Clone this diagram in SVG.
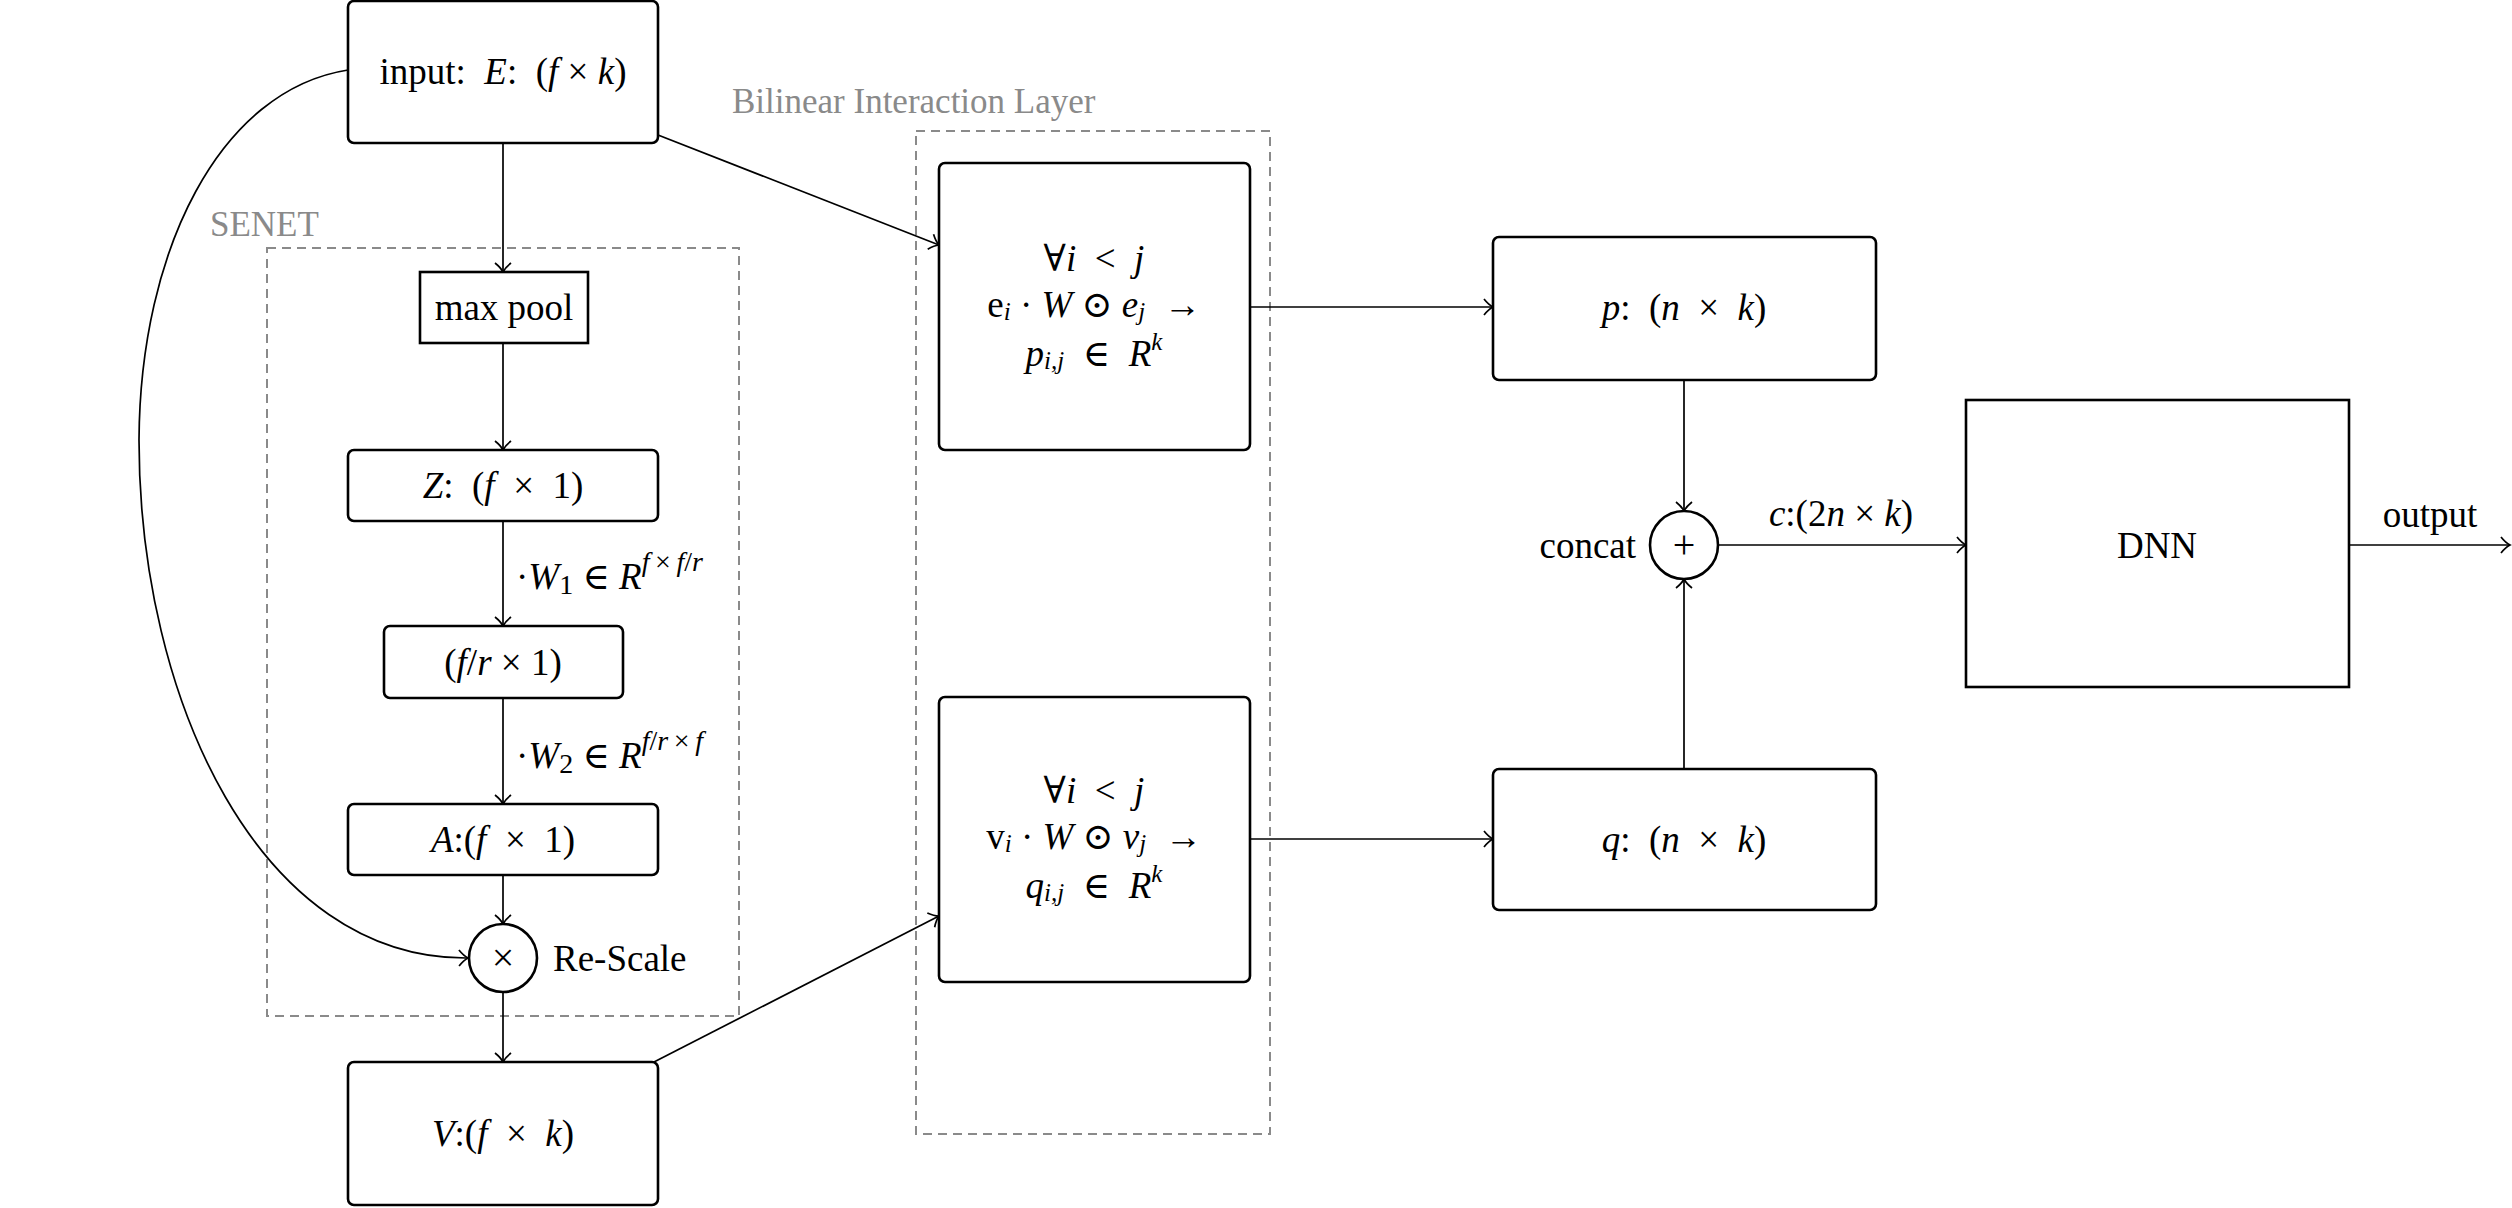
<svg xmlns="http://www.w3.org/2000/svg" width="2512" height="1208" viewBox="0 0 2512 1208">
<defs>
<style>
text{font-family:"Liberation Serif","DejaVu Serif",serif;font-size:37px;fill:#000;white-space:pre}
.t{text-anchor:middle;dominant-baseline:central}
.l{dominant-baseline:central}
.i{font-style:italic}
.s{font-size:25px}
.ss{font-size:28px}
.g{fill:#8a8a8a;font-size:35px}
.op{font-size:40px}
.box{fill:#fff;stroke:#000;stroke-width:2.6}
.grp{fill:none;stroke:#8a8a8a;stroke-width:2;stroke-dasharray:9 6}
.c{fill:none;stroke:#000;stroke-width:1.7}
</style>
<marker id="ar" markerUnits="userSpaceOnUse" markerWidth="24" markerHeight="24" viewBox="-12 -12 24 24" refX="0" refY="0" orient="auto">
<path d="M-9,-8 C-5,-3 -2,-1 0,0 C-2,1 -5,3 -9,8" fill="none" stroke="#000" stroke-width="1.7"/>
</marker>
</defs>

<g id="groups">
<rect class="grp" x="267" y="248" width="472" height="768"/>
<text class="l g" x="210" y="224">SENET</text>
<rect class="grp" x="916" y="131" width="354" height="1003"/>
<text class="l g" x="732" y="101">Bilinear Interaction Layer</text>
</g>

<g id="connectors">
<path class="c" d="M503,143 V272" marker-end="url(#ar)"/>
<path class="c" d="M503,343 V450" marker-end="url(#ar)"/>
<path class="c" d="M503,521 V626" marker-end="url(#ar)"/>
<path class="c" d="M503,698 V804" marker-end="url(#ar)"/>
<path class="c" d="M503,875 V924" marker-end="url(#ar)"/>
<path class="c" d="M503,992 V1062" marker-end="url(#ar)"/>
<path class="c" d="M348,70 C220,90 140,250 139,440 C139,700 260,960 468,958" marker-end="url(#ar)"/>
<path class="c" d="M658,135 L939,245" marker-end="url(#ar)"/>
<path class="c" d="M654,1062 L939,916" marker-end="url(#ar)"/>
<path class="c" d="M1250,307 H1493" marker-end="url(#ar)"/>
<path class="c" d="M1250,839 H1493" marker-end="url(#ar)"/>
<path class="c" d="M1684,380 V511" marker-end="url(#ar)"/>
<path class="c" d="M1684,769 V579" marker-end="url(#ar)"/>
<path class="c" d="M1718,545 H1966" marker-end="url(#ar)"/>
<path class="c" d="M2349,545 H2510" marker-end="url(#ar)"/>
<text class="l" x="516" y="576">·<tspan class="i">W</tspan><tspan class="ss" dy="8">1</tspan><tspan dy="-8">&#160;∈&#160;</tspan><tspan class="i">R</tspan><tspan class="ss" dy="-15"><tspan class="i">f</tspan>&#8201;×&#8201;<tspan class="i">f</tspan>/<tspan class="i">r</tspan></tspan></text>
<text class="l" x="516" y="755">·<tspan class="i">W</tspan><tspan class="ss" dy="8">2</tspan><tspan dy="-8">&#160;∈&#160;</tspan><tspan class="i">R</tspan><tspan class="ss" dy="-15"><tspan class="i">f</tspan>/<tspan class="i">r</tspan>&#8201;×&#8201;<tspan class="i">f</tspan></tspan></text>
<text class="t" x="1841" y="513"><tspan class="i">c</tspan>:(2<tspan class="i">n</tspan>&#160;×&#160;<tspan class="i">k</tspan>)</text>
<text class="t" x="2430" y="514">output</text>
</g>

<g id="input">
<rect class="box" x="348" y="1" width="310" height="142" rx="6"/>
<text class="t" x="503" y="71">input:&#160;&#160;<tspan class="i">E</tspan>:&#160;&#160;(<tspan class="i">f</tspan>&#160;×&#160;<tspan class="i">k</tspan>)</text>
</g>

<g id="maxpool">
<rect class="box" x="420" y="272" width="168" height="71"/>
<text class="t" x="504" y="307">max pool</text>
</g>

<g id="z">
<rect class="box" x="348" y="450" width="310" height="71" rx="6"/>
<text class="t" x="503" y="485"><tspan class="i">Z</tspan>:&#160;&#160;(<tspan class="i">f</tspan>&#160;&#160;×&#160;&#160;1)</text>
</g>

<g id="fr">
<rect class="box" x="384" y="626" width="239" height="72" rx="6"/>
<text class="t" x="503" y="662">(<tspan class="i">f</tspan>/<tspan class="i">r</tspan>&#160;×&#160;1)</text>
</g>

<g id="a">
<rect class="box" x="348" y="804" width="310" height="71" rx="6"/>
<text class="t" x="503" y="839"><tspan class="i">A</tspan>:(<tspan class="i">f</tspan>&#160;&#160;×&#160;&#160;1)</text>
</g>

<g id="rescale">
<circle class="box" cx="503" cy="958" r="34"/>
<text class="t op" x="503" y="957">×</text>
<text class="l" x="553" y="958">Re-Scale</text>
</g>

<g id="v">
<rect class="box" x="348" y="1062" width="310" height="143" rx="6"/>
<text class="t" x="503" y="1133"><tspan class="i">V</tspan>:(<tspan class="i">f</tspan>&#160;&#160;×&#160;&#160;<tspan class="i">k</tspan>)</text>
</g>

<g id="bil-e">
<rect class="box" x="939" y="163" width="311" height="287" rx="6"/>
<text class="t" x="1094" y="258">∀<tspan class="i">i</tspan>&#160;&#160;&lt;&#160;&#160;<tspan class="i">j</tspan></text>
<text class="t" x="1094" y="304">e<tspan class="s i" dy="7">i</tspan><tspan dy="-7">&#160;·&#160;</tspan><tspan class="i">W</tspan>&#160;⊙&#160;<tspan class="i">e</tspan><tspan class="s i" dy="7">j</tspan><tspan dy="-7">&#160;&#160;→</tspan></text>
<text class="t" x="1094" y="353"><tspan class="i">p</tspan><tspan class="s i" dy="7">i,j</tspan><tspan dy="-7">&#160;&#160;∈&#160;&#160;</tspan><tspan class="i">R</tspan><tspan class="s i" dy="-12">k</tspan></text>
</g>

<g id="bil-v">
<rect class="box" x="939" y="697" width="311" height="285" rx="6"/>
<text class="t" x="1094" y="790">∀<tspan class="i">i</tspan>&#160;&#160;&lt;&#160;&#160;<tspan class="i">j</tspan></text>
<text class="t" x="1094" y="836">v<tspan class="s i" dy="7">i</tspan><tspan dy="-7">&#160;·&#160;</tspan><tspan class="i">W</tspan>&#160;⊙&#160;<tspan class="i">v</tspan><tspan class="s i" dy="7">j</tspan><tspan dy="-7">&#160;&#160;→</tspan></text>
<text class="t" x="1094" y="885"><tspan class="i">q</tspan><tspan class="s i" dy="7">i,j</tspan><tspan dy="-7">&#160;&#160;∈&#160;&#160;</tspan><tspan class="i">R</tspan><tspan class="s i" dy="-12">k</tspan></text>
</g>

<g id="p">
<rect class="box" x="1493" y="237" width="383" height="143" rx="6"/>
<text class="t" x="1684" y="307"><tspan class="i">p</tspan>:&#160;&#160;(<tspan class="i">n</tspan>&#160;&#160;×&#160;&#160;<tspan class="i">k</tspan>)</text>
</g>

<g id="q">
<rect class="box" x="1493" y="769" width="383" height="141" rx="6"/>
<text class="t" x="1684" y="839"><tspan class="i">q</tspan>:&#160;&#160;(<tspan class="i">n</tspan>&#160;&#160;×&#160;&#160;<tspan class="i">k</tspan>)</text>
</g>

<g id="concat">
<circle class="box" cx="1684" cy="545" r="34"/>
<text class="t op" x="1684" y="544">+</text>
<text class="l" x="1636" y="545" text-anchor="end">concat</text>
</g>

<g id="dnn">
<rect class="box" x="1966" y="400" width="383" height="287"/>
<text class="t" x="2157" y="545">DNN</text>
</g>
</svg>
